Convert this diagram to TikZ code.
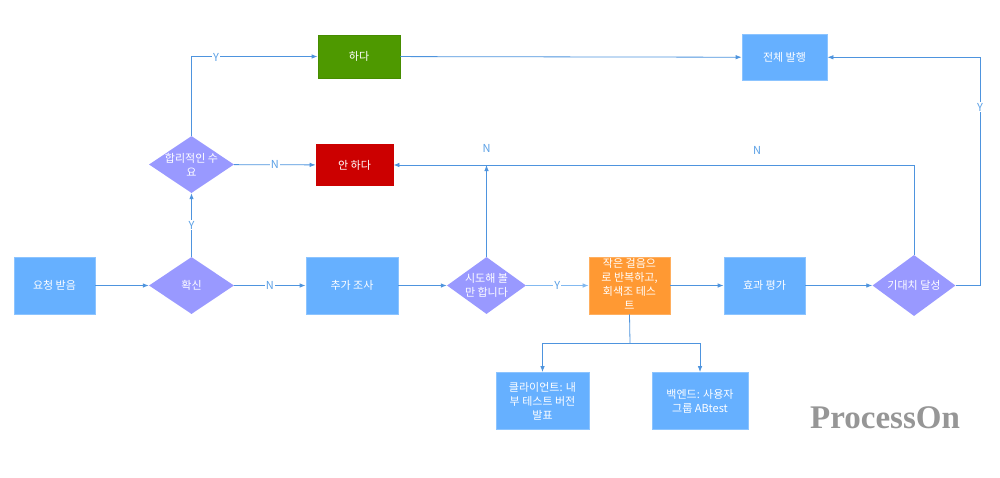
\documentclass[tikz,border=0pt]{standalone}
\usepackage{fontspec}
\setmainfont{Noto Sans CJK KR}
\newfontfamily\wmfont{Liberation Serif}
\usetikzlibrary{shapes.geometric,arrows.meta}
\definecolor{boxblue}{RGB}{102,176,255}
\definecolor{boxborder}{RGB}{140,196,255}
\definecolor{diafill}{RGB}{153,153,255}
\definecolor{dogreen}{RGB}{78,153,0}
\definecolor{dogreenb}{RGB}{70,140,0}
\definecolor{dontred}{RGB}{204,0,0}
\definecolor{orangef}{RGB}{255,153,51}
\definecolor{orangeb}{RGB}{255,175,95}
\definecolor{linec}{RGB}{78,148,222}
\definecolor{linelight}{RGB}{130,185,240}
\definecolor{labc}{RGB}{90,160,230}
\definecolor{wmgray}{RGB}{150,150,150}
\begin{document}
\begin{tikzpicture}[x=1pt,y=-1pt,
  nodetext/.style={text=white,font=\fontsize{11}{14}\selectfont,align=center},
  bbox/.style={rectangle,inner sep=0pt,nodetext,draw=boxborder,fill=boxblue,line width=0.8pt},
  gbox/.style={rectangle,inner sep=0pt,nodetext,draw=dogreenb,fill=dogreen,line width=0.8pt},
  rbox/.style={rectangle,inner sep=0pt,nodetext,draw=dontred,fill=dontred,line width=0.8pt},
  obox/.style={rectangle,inner sep=0pt,nodetext,draw=orangeb,fill=orangef,line width=0.8pt},
  dia/.style={diamond,inner sep=0pt,fill=diafill,draw=none},
  dtext/.style={nodetext,inner sep=0pt},
  conn/.style={draw=linec,line width=0.8pt,-{Latex[length=6pt,width=4.5pt]}},
  plain/.style={draw=linec,line width=0.8pt},
  lab/.style={text=labc,font=\fontsize{11}{13}\selectfont,fill=white,inner sep=1pt},
  labnf/.style={text=labc,font=\fontsize{11}{13}\selectfont,inner sep=1pt}
]
\useasboundingbox (0,0) rectangle (1000,477);
\fill[white] (0,0) rectangle (1000,477);

% nodes
\node[bbox,minimum width=81pt,minimum height=57pt] (req) at (54.5,285.5) {요청 받음};
\node[dia,minimum width=85pt,minimum height=57pt] (conf) at (191.5,285.5) {};
\node[dtext] (conft) at (conf) {확신};
\node[dia,minimum width=85pt,minimum height=57pt] (reas) at (191.5,164.5) {};
\node[dtext] (reast) at (reas) {합리적인 수\\요};
\node[gbox,minimum width=82pt,minimum height=43pt] (do) at (359,56.5) {하다};
\node[rbox,minimum width=77pt,minimum height=41pt] (dont) at (354.5,165) {안 하다};
\node[bbox,minimum width=92pt,minimum height=57pt] (more) at (352,285.5) {추가 조사};
\node[dia,minimum width=79pt,minimum height=57pt] (try) at (486.5,285.5) {};
\node[dtext] (tryt) at (try) {시도해 볼\\만 합니다};
\node[obox,minimum width=81pt,minimum height=57pt] (small) at (629.5,285.5) {};
\node[dtext] (smallt) at (629.5,284) {작은 걸음으\\로 반복하고,\\회색조 테스\\트};
\node[bbox,minimum width=81pt,minimum height=57pt] (eval) at (764.5,285.5) {효과 평가};
\node[dia,minimum width=83pt,minimum height=61pt] (reach) at (914,285.5) {};
\node[dtext] (reacht) at (reach) {기대치 달성};
\node[bbox,minimum width=85pt,minimum height=46pt] (full) at (784.5,57.3) {전체 발행};
\node[bbox,minimum width=93pt,minimum height=57pt] (client) at (542.5,401) {클라이언트: 내\\부 테스트 버전\\발표};
\node[bbox,minimum width=96pt,minimum height=57pt] (backend) at (700,401) {백엔드: 사용자\\그룹 ABtest};

% coordinates
\coordinate (tj) at (486.5,165);
\coordinate (br) at (630,343);
\coordinate (rc) at (980,285.5);

% connectors
\draw[conn] (req) -- (conf);
\draw[conn] (conf) -- node[lab]{N} (more);
\draw[conn] (conf) -- node[lab]{Y} (reas);
\draw[conn] (reas) -- node[lab]{N} (dont);
\draw[conn] (reas.north) |- (do.west);
\node[lab] (ly1) at (216,57) {Y};
\draw[conn] (do) -- (full);
\draw[conn] (more) -- (try);
\draw[conn] (try.north) -- (tj);
\node[labnf] (ln1) at (486.5,148) {N};
\draw[draw=linelight,line width=0.8pt,-{Latex[length=6pt,width=4.5pt]}] (try) -- node[lab]{Y} (small);
\draw[conn] (small) -- (eval);
\draw[conn] (eval) -- (reach);
\draw[conn] (reach.north) |- (dont.east);
\node[labnf] (ln2) at (757,150) {N};
\draw[conn] (reach.east) -- (rc) |- (full.east);
\node[lab] (ly2) at (980,107) {Y};
\draw[plain] (small.south) -- (br);
\draw[conn] (br) -| (client.north);
\draw[conn] (br) -| (backend.north);

% watermark
\node[anchor=base,text=wmgray,font=\wmfont\bfseries\fontsize{33}{36}\selectfont,inner sep=0pt] (wm) at (885,428) {ProcessOn};
\end{tikzpicture}
\end{document}
